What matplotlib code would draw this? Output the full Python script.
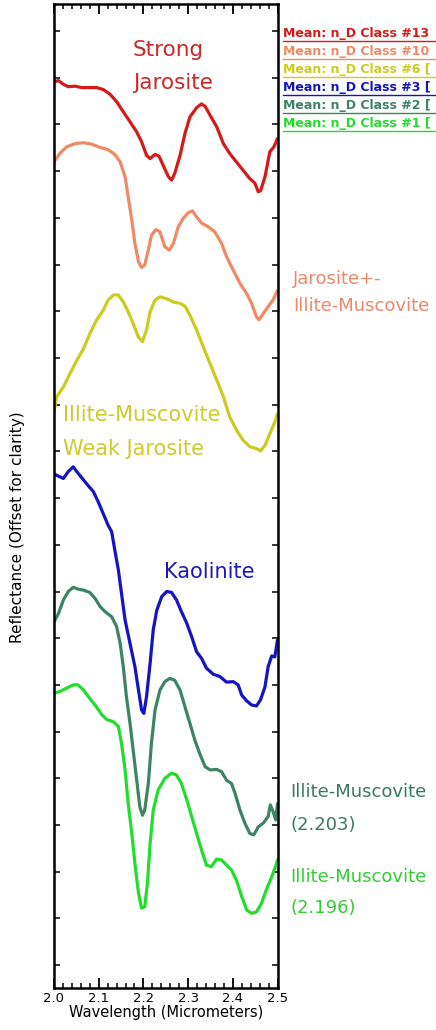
import matplotlib
matplotlib.use("Agg")
import matplotlib.pyplot as plt
from matplotlib.lines import Line2D
from matplotlib.ticker import MultipleLocator
import numpy as np

# ---------------- data (wavelength in micrometers, offset reflectance) ----------------
wl_c13 = [2.000, 2.010, 2.021, 2.032, 2.047, 2.062, 2.077, 2.095, 2.110, 2.125, 2.140, 2.155,
          2.170, 2.185, 2.196, 2.207, 2.215, 2.226, 2.235, 2.244, 2.256, 2.263, 2.270, 2.282,
          2.293, 2.304, 2.319, 2.330, 2.338, 2.349, 2.364, 2.379, 2.393, 2.408, 2.423, 2.438,
          2.449, 2.457, 2.462, 2.472, 2.483, 2.492, 2.500]
r_c13 = [1.891, 1.894, 1.886, 1.881, 1.882, 1.879, 1.879, 1.879, 1.875, 1.865, 1.849, 1.827,
         1.806, 1.784, 1.763, 1.734, 1.727, 1.736, 1.732, 1.713, 1.688, 1.681, 1.695, 1.734,
         1.781, 1.816, 1.836, 1.844, 1.839, 1.820, 1.795, 1.759, 1.738, 1.720, 1.702, 1.684,
         1.675, 1.656, 1.658, 1.688, 1.742, 1.752, 1.770]

wl_c10 = [2.000, 2.013, 2.028, 2.047, 2.066, 2.084, 2.103, 2.121, 2.136, 2.148, 2.159, 2.166,
          2.174, 2.181, 2.189, 2.196, 2.203, 2.211, 2.218, 2.228, 2.237, 2.248, 2.258, 2.267,
          2.278, 2.289, 2.300, 2.310, 2.319, 2.330, 2.345, 2.360, 2.375, 2.386, 2.401, 2.416,
          2.431, 2.442, 2.453, 2.459, 2.468, 2.479, 2.490, 2.500]
r_c10 = [1.720, 1.738, 1.752, 1.759, 1.761, 1.758, 1.751, 1.746, 1.736, 1.720, 1.688, 1.645,
         1.595, 1.545, 1.506, 1.494, 1.499, 1.531, 1.563, 1.575, 1.570, 1.538, 1.531, 1.545,
         1.581, 1.599, 1.611, 1.615, 1.602, 1.589, 1.581, 1.570, 1.545, 1.517, 1.488, 1.460,
         1.438, 1.417, 1.388, 1.382, 1.395, 1.410, 1.424, 1.445]

wl_c6 = [2.000, 2.006, 2.021, 2.036, 2.051, 2.066, 2.080, 2.095, 2.110, 2.121, 2.133, 2.144,
         2.155, 2.166, 2.177, 2.189, 2.198, 2.207, 2.215, 2.226, 2.237, 2.252, 2.267, 2.282,
         2.293, 2.304, 2.319, 2.334, 2.349, 2.364, 2.379, 2.393, 2.408, 2.423, 2.438, 2.453,
         2.462, 2.472, 2.483, 2.494, 2.500]
r_c6 = [1.185, 1.217, 1.238, 1.267, 1.295, 1.320, 1.352, 1.381, 1.402, 1.424, 1.435, 1.435,
        1.420, 1.399, 1.374, 1.345, 1.335, 1.360, 1.399, 1.424, 1.431, 1.427, 1.420, 1.417,
        1.411, 1.392, 1.360, 1.324, 1.288, 1.253, 1.217, 1.174, 1.146, 1.124, 1.110, 1.106,
        1.101, 1.113, 1.138, 1.163, 1.181]

wl_c3 = [2.000, 2.010, 2.021, 2.032, 2.043, 2.054, 2.066, 2.077, 2.088, 2.099, 2.110, 2.121,
         2.129, 2.136, 2.144, 2.151, 2.159, 2.170, 2.181, 2.189, 2.196, 2.201, 2.207, 2.215,
         2.222, 2.230, 2.241, 2.252, 2.263, 2.274, 2.285, 2.297, 2.308, 2.319, 2.330, 2.341,
         2.356, 2.371, 2.386, 2.401, 2.412, 2.420, 2.431, 2.442, 2.453, 2.462, 2.472, 2.479,
         2.487, 2.494, 2.500]
r_c3 = [1.052, 1.047, 1.042, 1.057, 1.067, 1.053, 1.039, 1.026, 1.014, 0.992, 0.967, 0.942,
        0.928, 0.889, 0.846, 0.796, 0.739, 0.689, 0.639, 0.589, 0.546, 0.539, 0.575, 0.646,
        0.718, 0.760, 0.789, 0.800, 0.798, 0.782, 0.757, 0.732, 0.703, 0.671, 0.657, 0.636,
        0.623, 0.618, 0.606, 0.607, 0.600, 0.578, 0.566, 0.557, 0.555, 0.568, 0.596, 0.639,
        0.662, 0.660, 0.696]

wl_c2 = [2.000, 2.010, 2.021, 2.032, 2.043, 2.054, 2.066, 2.080, 2.092, 2.103, 2.114, 2.129,
         2.140, 2.148, 2.155, 2.162, 2.170, 2.177, 2.185, 2.192, 2.198, 2.203, 2.211, 2.218,
         2.226, 2.237, 2.248, 2.259, 2.270, 2.282, 2.293, 2.304, 2.315, 2.326, 2.338, 2.349,
         2.364, 2.375, 2.386, 2.397, 2.405, 2.416, 2.427, 2.438, 2.447, 2.457, 2.468, 2.479,
         2.484, 2.490, 2.496, 2.500]
r_c2 = [0.735, 0.753, 0.782, 0.800, 0.809, 0.805, 0.803, 0.798, 0.785, 0.768, 0.757, 0.746,
        0.725, 0.689, 0.639, 0.575, 0.518, 0.461, 0.396, 0.339, 0.321, 0.332, 0.389, 0.475,
        0.546, 0.589, 0.607, 0.614, 0.610, 0.589, 0.553, 0.518, 0.482, 0.453, 0.425, 0.418,
        0.419, 0.414, 0.396, 0.389, 0.368, 0.332, 0.304, 0.282, 0.279, 0.296, 0.304, 0.318,
        0.343, 0.329, 0.311, 0.346]

wl_c1 = [2.000, 2.013, 2.028, 2.043, 2.054, 2.066, 2.080, 2.095, 2.107, 2.118, 2.133, 2.144,
         2.151, 2.159, 2.166, 2.174, 2.181, 2.189, 2.196, 2.203, 2.209, 2.215, 2.222, 2.233,
         2.248, 2.263, 2.274, 2.285, 2.297, 2.308, 2.319, 2.330, 2.341, 2.352, 2.364, 2.375,
         2.386, 2.397, 2.408, 2.420, 2.431, 2.442, 2.453, 2.464, 2.475, 2.487, 2.494, 2.500]
r_c1 = [0.582, 0.586, 0.593, 0.600, 0.600, 0.589, 0.571, 0.553, 0.536, 0.526, 0.521, 0.511,
        0.475, 0.418, 0.346, 0.282, 0.218, 0.154, 0.122, 0.125, 0.175, 0.261, 0.332, 0.375,
        0.400, 0.411, 0.407, 0.389, 0.354, 0.318, 0.282, 0.247, 0.214, 0.211, 0.227, 0.225,
        0.214, 0.204, 0.182, 0.147, 0.118, 0.111, 0.114, 0.132, 0.161, 0.189, 0.207, 0.225]

series_wl = [wl_c13, wl_c10, wl_c6, wl_c3, wl_c2, wl_c1]
series_r = [r_c13, r_c10, r_c6, r_c3, r_c2, r_c1]
series_colors = ["#d61a1a", "#f08a66", "#cccc1e", "#1414c4", "#3c8464", "#22dd2c"]
legend_labels = ["Mean: n_D Class #13", "Mean: n_D Class #10", "Mean: n_D Class #6 [",
                 "Mean: n_D Class #3 [", "Mean: n_D Class #2 [", "Mean: n_D Class #1 ["]
x_ticks = [2.0, 2.1, 2.2, 2.3, 2.4, 2.5]
x_tick_labels = ["2.0", "2.1", "2.2", "2.3", "2.4", "2.5"]

# ---------------- figure ----------------
W, H = 436, 1030
plt.rcParams['font.family'] = ['DejaVu Sans']
fig = plt.figure(figsize=(W / 100, H / 100), dpi=100)
ax = fig.add_axes([54 / W, 1 - 988 / H, (277.5 - 54) / W, (988 - 4) / H])

for wl, r, c in zip(series_wl, series_r, series_colors):
    ax.plot(wl, r, color=c, lw=2.3, solid_joinstyle='round', solid_capstyle='round')

ax.set_xlim(2.0, 2.5)
ax.set_ylim(-0.049, 2.058)
ax.set_xticks(x_ticks)
ax.set_xticklabels(x_tick_labels, fontsize=9.5)
ax.xaxis.set_minor_locator(MultipleLocator(0.02))
ax.yaxis.set_major_locator(MultipleLocator(0.1))
ax.set_yticklabels([])
ax.tick_params(axis='x', which='major', direction='in', length=7, width=1.3,
               top=True, bottom=True, pad=3)
ax.tick_params(axis='x', which='minor', direction='in', length=3.5, width=1.1,
               top=True, bottom=True)
ax.tick_params(axis='y', which='major', direction='in', length=4, width=1.1,
               left=True, right=True, labelleft=False)
for s in ax.spines.values():
    s.set_linewidth(1.8)

ax.set_xlabel("Wavelength (Micrometers)", fontsize=10.5, labelpad=0)
fig.text(18 / W, 1 - 527 / H, "Reflectance (Offset for clarity)", rotation=90,
         ha='center', va='center', fontsize=11)


def ftxt(px, py, s, color, size, ha='left', weight='normal'):
    fig.text(px / W, 1 - py / H, s, color=color, fontsize=size, ha=ha, va='center',
             fontweight=weight)


# annotations
ftxt(168, 50, "Strong", "#cc2828", 15.5, ha='center')
ftxt(173, 83, "Jarosite", "#cc2828", 15.5, ha='center')
ftxt(293, 279, "Jarosite+-", "#ee8868", 13)
ftxt(293, 306, "Illite-Muscovite", "#ee8868", 13)
ftxt(63, 415, "Illite-Muscovite", "#cccc2a", 15)
ftxt(63, 449, "Weak Jarosite", "#cccc2a", 15)
ftxt(164, 572, "Kaolinite", "#1a1ab4", 15)
ftxt(290, 792, "Illite-Muscovite", "#3a7a5c", 13)
ftxt(290, 825, "(2.203)", "#3a7a5c", 13)
ftxt(290, 877, "Illite-Muscovite", "#33cc33", 13)
ftxt(290, 908, "(2.196)", "#33cc33", 13)

# legend-like labels at top right, underlined
for i, (lab, c) in enumerate(zip(legend_labels, series_colors)):
    yc = 34 + 18 * i
    ftxt(283, yc, lab, c, 9, weight='bold')
    fig.add_artist(Line2D([283 / W, 1.0], [1 - (yc + 7) / H] * 2, color=c, lw=1.0,
                          transform=fig.transFigure))

fig.savefig("out.png", dpi=100)
